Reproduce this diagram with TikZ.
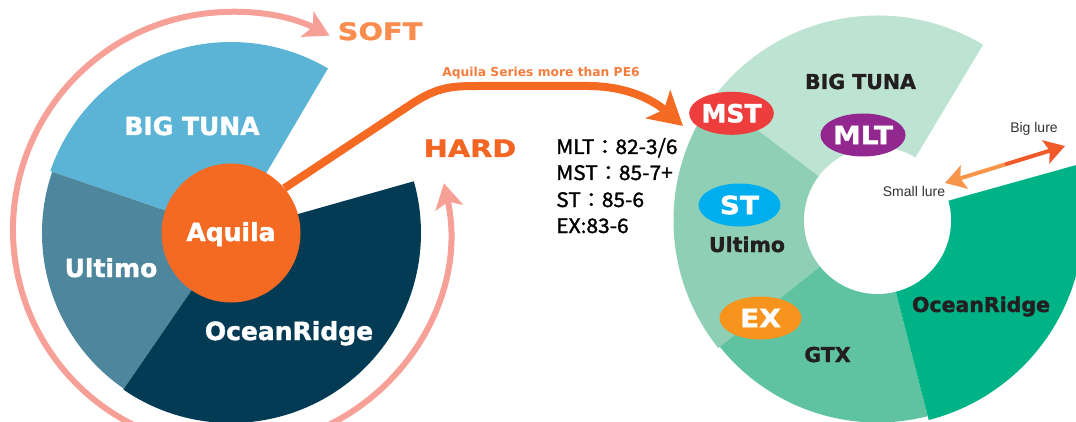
\documentclass[tikz,border=0pt]{standalone}
\usepackage{fontspec}
\setmainfont{DejaVu Sans}
\newfontfamily\blk{DejaVu Sans Bold}[FakeBold=1.5]
\newfontfamily\blkb{DejaVu Sans Bold}[FakeStretch=1.12,FakeBold=1.5]
\newfontfamily\blkw{DejaVu Sans Bold}[FakeStretch=1.2,FakeBold=1.5]
\newfontfamily\blks{DejaVu Sans Bold}
\newfontfamily\cjk{Noto Sans CJK JP}[FakeBold=1.5,FakeStretch=1.05]
\newfontfamily\lib{Liberation Sans}
\usetikzlibrary{arrows.meta,shapes.geometric,calc}
\definecolor{ltblue}{HTML}{5BB4D6}
\definecolor{midblue}{HTML}{4E869D}
\definecolor{navy}{HTML}{033B54}
\definecolor{aqorange}{HTML}{F46A23}
\definecolor{pinkring}{HTML}{F7A097}
\definecolor{softc}{HTML}{F98D4F}
\definecolor{hardc}{HTML}{F26522}
\definecolor{mintA}{HTML}{BDE3D3}
\definecolor{mintB}{HTML}{8FCFB6}
\definecolor{mintC}{HTML}{5FC3A2}
\definecolor{mintD}{HTML}{00B386}
\definecolor{mstred}{HTML}{EE3D3D}
\definecolor{mltpur}{HTML}{92278F}
\definecolor{stblue}{HTML}{00AEEF}
\definecolor{exorg}{HTML}{F7941D}
\definecolor{darktxt}{HTML}{231F20}
\definecolor{lureL}{HTML}{F7964A}
\definecolor{lureD}{HTML}{F05A28}
\definecolor{luretxt}{HTML}{333333}
\definecolor{seriesc}{HTML}{F57C3C}
\newcommand\mysector[5]{\fill[#1] (#2) -- ++(#3:#5) arc[start angle=#3,end angle=#4,radius=#5] -- cycle;}
\tikzset{
  lbl/.style={font=\blk\fontsize{25}{25}\selectfont, text=white, inner sep=0pt, anchor=base},
  rlbl/.style={font=\blk\fontsize{20.5}{20.5}\selectfont, text=darktxt, inner sep=0pt, anchor=base},
  badge/.style={ellipse, minimum width=82pt, minimum height=43pt, inner sep=0pt, text=white, font=\blkb\fontsize{25}{25}\selectfont},
  sh/.style={font=\blkw\fontsize{24}{24}\selectfont, inner sep=0pt, anchor=base},
  spec/.style={font=\cjk\fontsize{20}{20}\selectfont, inner sep=0pt, anchor=base west, text=black},
  lure/.style={font=\lib\fontsize{14}{14}\selectfont, inner sep=0pt, anchor=base, text=luretxt},
  pinkarrow/.style={pinkring, line width=6pt, {Stealth[length=25pt,width=28pt,inset=6pt]}-{Stealth[length=25pt,width=28pt,inset=6pt]}},
}
\begin{document}
\begin{tikzpicture}[x=1pt,y=1pt]
\useasboundingbox (0,0) rectangle (1076,421);
\clip (0,0) rectangle (1076,421);
% left pie
\coordinate (lc) at (231,188);
\mysector{ltblue}{lc}{59.5}{161.1}{191}
\mysector{midblue}{lc}{161.1}{235.5}{189}
\mysector{navy}{lc}{235.5}{375.8}{190}
\coordinate (ringc) at (231,191);
\draw[pinkarrow] (ringc) ++(12.4:218) arc[start angle=12.4,end angle=-296.9,radius=218];
\node[circle, fill=aqorange, minimum size=139pt, inner sep=0pt] (aquila) at (lc) {};
\node[lbl] (aqt) at (231,180) {Aquila};
\node[lbl] (lbt) at (192,286) {BIG TUNA};
\node[lbl] (lul) at (111,144) {Ultimo};
\node[lbl] (loc) at (289,81) {OceanRidge};
\node[sh, text=softc] (soft) at (380,381) {SOFT};
\node[sh, text=hardc] (hard) at (470,264) {HARD};
% right donut
\coordinate (rc) at (877.5,200.5);
\mysector{mintA}{rc}{59}{143}{205}
\mysector{mintB}{rc}{143}{218.7}{204}
\mysector{mintC}{rc}{218.7}{284.4}{202}
\mysector{mintD}{rc}{284.4}{375.6}{206}
\fill[white] (rc) circle[radius=73.5];
\node[rlbl] (rbt) at (860.5,332) {BIG TUNA};
\node[rlbl] (rul) at (747,169) {Ultimo};
\node[rlbl] (rgt) at (827.5,59) {GTX};
\node[rlbl] (roc) at (981,109) {OceanRidge};
\node[badge, fill=mstred, font=\blk\fontsize{25}{25}\selectfont] (mst) at (731.5,307.7) {MST};
\node[badge, fill=mltpur] (mlt) at (863,286) {MLT};
\node[badge, fill=stblue] (st) at (739.5,216) {ST};
\node[badge, fill=exorg] (ex) at (760.5,103) {EX};
% main connector
\coordinate (mstin) at (683,295);
\draw[aqorange, line width=8pt, -{Stealth[length=33pt,width=37pt,inset=8pt]}]
  (aquila.40) -- (413,318) .. controls (438,334) and (452,335) .. (478,335)
  -- (588,335) .. controls (625,335) and (652,322) .. (mstin);
\node[font=\blks\fontsize{12.3}{12.3}\selectfont, text=seriesc, inner sep=0pt, anchor=base] (series) at (541,344) {Aquila Series more than PE6};
% specs
\node[spec] (s1) at (556,267) {MLT：82-3/6};
\node[spec] (s2) at (556,241) {MST：85-7+};
\node[spec] (s3) at (556,214) {ST：85-6};
\node[spec] (s4) at (556,188) {EX:83-6};
% lure arrow
\coordinate (lsmall) at (945,238);
\coordinate (lbig) at (1065,275);
\coordinate (lmid) at ($ (lsmall)!0.5!(lbig) $);
\draw[lureL, line width=4pt, -{Stealth[length=20pt,width=24pt,inset=4pt]}] (lmid) -- (lsmall);
\draw[lureD, line width=4pt, -{Stealth[length=20pt,width=24pt,inset=4pt]}] (lmid) -- (lbig);
\node[lure] (small) at (914,225) {Small lure};
\node[lure] (big) at (1034,288) {Big lure};
\end{tikzpicture}
\end{document}
